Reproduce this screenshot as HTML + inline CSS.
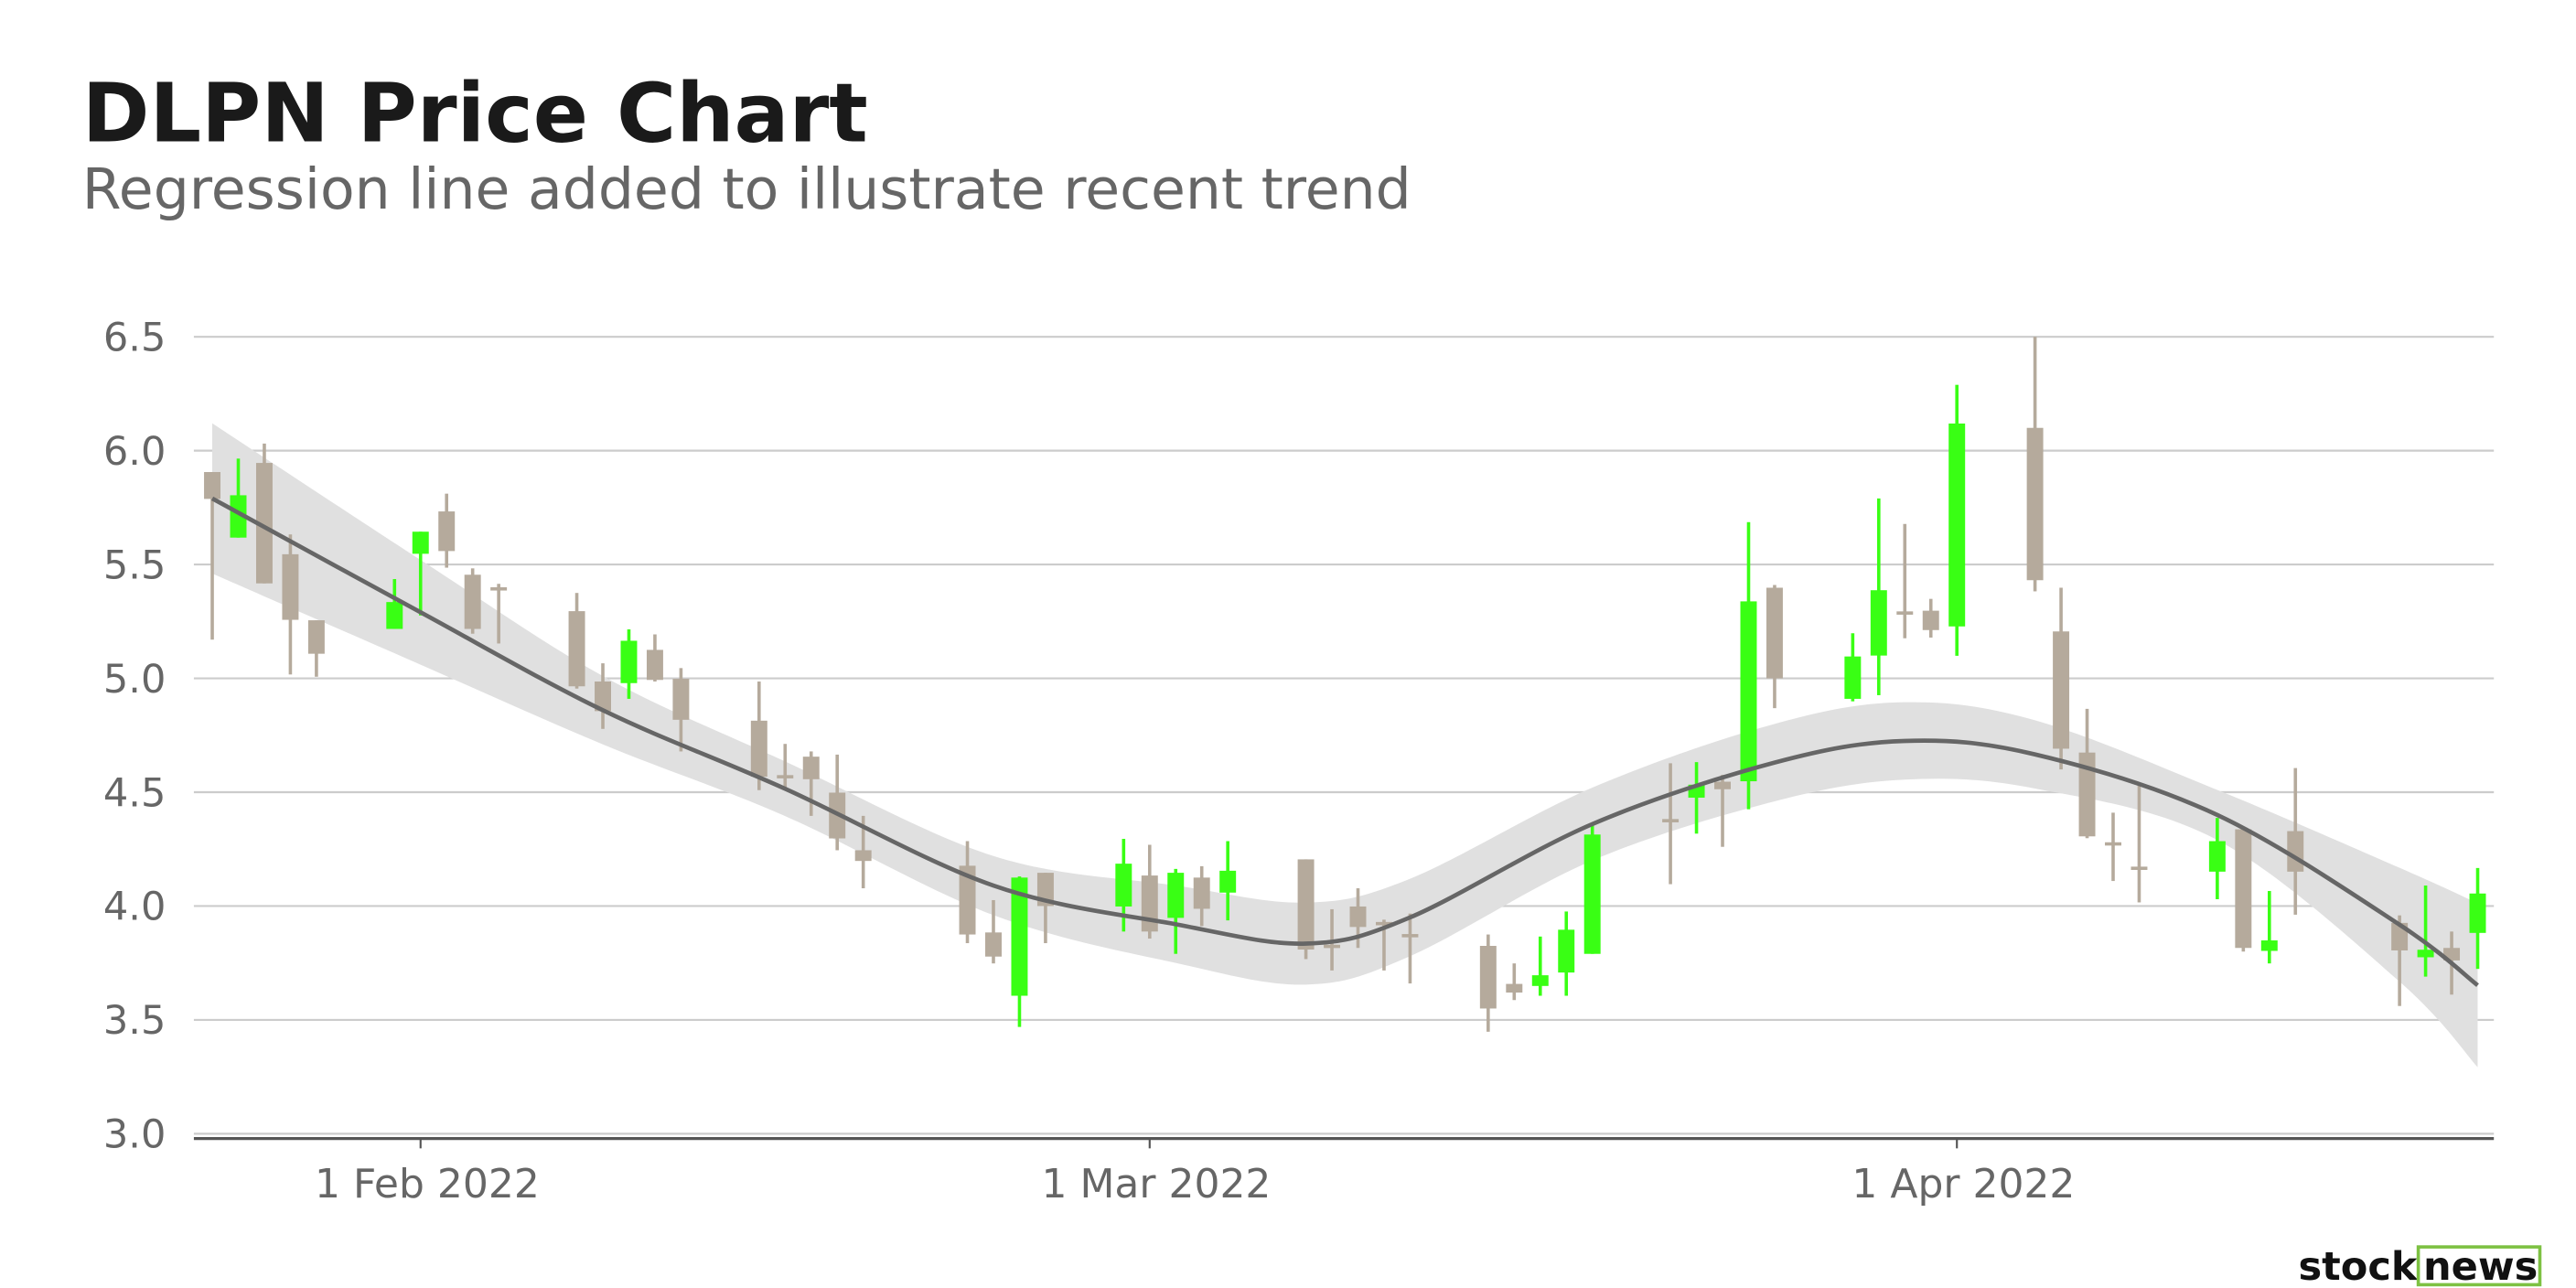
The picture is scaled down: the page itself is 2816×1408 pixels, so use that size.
<!DOCTYPE html>
<html><head><meta charset="utf-8"><style>
html,body{margin:0;padding:0;background:#fff;width:2816px;height:1408px;overflow:hidden}
svg{display:block}
text{font-family:"DejaVu Sans","Liberation Sans",sans-serif}
</style></head><body>
<svg id="chart" width="2816" height="1408" viewBox="0 0 1568 784" xmlns="http://www.w3.org/2000/svg">
<text x="50" y="86" font-size="49.5" font-weight="bold" fill="#1a1a1a">DLPN Price Chart</text>
<text x="50" y="127" font-size="34.3" fill="#666">Regression line added to illustrate recent trend</text>
<g id="grid"></g>
<g id="band"></g>
<g id="candles"></g>
<g id="axes"></g>
<g>
<text x="1399" y="779" font-size="24" font-weight="bold" fill="#111">stock</text>
<rect x="1472" y="759" width="74" height="23" fill="none" stroke="#7dc142" stroke-width="2"/>
<text x="1475" y="779" font-size="24" font-weight="bold" fill="#111">news</text>
</g>
</svg>
<script>
// day index relative to 1 Feb 2022
const days = [-8,-7,-6,-5,-4,-1,0,1,2,3,6,7,8,9,10,13,14,15,16,17,21,22,23,24,27,28,29,30,31,34,35,36,37,38,41,42,43,44,45,48,49,50,51,52,55,56,57,58,59,62,63,64,65,66,69,70,71,72,76,77,78,79];
const opens = [5.906,5.618,5.946,5.545,5.255,5.217,5.547,5.733,5.455,5.40,5.295,4.986,4.979,5.125,4.998,4.814,4.575,4.656,4.498,4.245,4.177,3.884,3.606,4.146,3.998,4.134,3.948,4.125,4.059,4.205,3.83,3.998,3.93,3.877,3.825,3.658,3.649,3.708,3.79,4.382,4.476,4.546,4.548,5.398,4.91,5.1,5.294,5.297,5.228,6.1,5.206,4.674,4.28,4.173,4.151,4.337,3.803,4.329,3.926,3.775,3.816,3.882];
const highs = [5.906,5.965,6.031,5.632,5.255,5.436,5.644,5.811,5.483,5.415,5.375,5.066,5.215,5.193,5.045,4.986,4.712,4.679,4.665,4.396,4.285,4.026,4.13,4.146,4.295,4.269,4.163,4.175,4.285,4.205,3.986,4.078,3.94,3.967,3.875,3.748,3.866,3.976,4.356,4.627,4.632,4.576,5.686,5.41,5.198,5.79,5.678,5.349,6.289,6.5,5.398,4.866,4.41,4.537,4.387,4.337,4.066,4.606,3.959,4.09,3.888,4.167];
const lows = [5.17,5.618,5.417,5.017,5.007,5.217,5.276,5.486,5.196,5.153,4.955,4.778,4.91,4.986,4.679,4.509,4.514,4.396,4.245,4.078,3.837,3.748,3.469,3.837,3.888,3.857,3.79,3.912,3.937,3.767,3.717,3.816,3.717,3.66,3.448,3.587,3.606,3.606,3.79,4.096,4.318,4.26,4.425,4.869,4.899,4.926,5.176,5.179,5.099,5.382,4.6,4.298,4.11,4.016,4.03,3.8,3.748,3.962,3.561,3.69,3.611,3.724];
const closes = [5.788,5.804,5.417,5.257,5.108,5.335,5.644,5.559,5.217,5.39,4.965,4.856,5.165,4.993,4.818,4.568,4.575,4.557,4.297,4.198,3.875,3.778,4.125,4.0,4.186,3.888,4.146,3.988,4.155,3.809,3.82,3.908,3.92,3.877,3.55,3.62,3.696,3.896,4.314,4.382,4.533,4.513,5.338,5.0,5.096,5.387,5.294,5.212,6.119,5.431,4.691,4.306,4.28,4.173,4.285,3.816,3.849,4.151,3.805,3.808,3.761,4.055];
// regression trend line and band half-width
const regDays = [-8,0,7,14,22,29,34,38,45,52,57,62,69,76,79];
const regValues = [5.79,5.29,4.86,4.515,4.09,3.92,3.835,3.95,4.36,4.63,4.725,4.666,4.40,3.918,3.652];
const bandHalf = [0.33,0.23,0.15,0.12,0.13,0.17,0.18,0.17,0.16,0.17,0.17,0.15,0.11,0.25,0.36];
const yTicks = [3.0,3.5,4.0,4.5,5.0,5.5,6.0,6.5];
const xTickDays = [0,28,59];
const xTickLabels = ["1 Feb 2022","1 Mar 2022","1 Apr 2022"];

const NS = "http://www.w3.org/2000/svg";
const X0 = 118, X1 = 1518;
const xs = d => 256 + d * 15.85;
const ys = v => 205 + (6.5 - v) * 138.6;
function mk(tag, attrs, parent){const e=document.createElementNS(NS,tag);for(const k in attrs)e.setAttribute(k,attrs[k]);parent.appendChild(e);return e;}

const grid = document.getElementById('grid');
yTicks.forEach(t=>{
  const l = mk('line',{x1:X0,x2:X1,y1:ys(t),y2:ys(t),stroke:'#cccccc','stroke-width':1.2},grid);
  
  
  const tx = mk('text',{x:101,y:ys(t)+8.5,'font-size':24,fill:'#666','text-anchor':'end'},grid);
  tx.textContent = t.toFixed(1);
  
  
});

const band = document.getElementById('band');
function smooth(pts){
  let d = `M${pts[0][0]},${pts[0][1]}`;
  for(let i=0;i<pts.length-1;i++){
    const p0=pts[Math.max(i-1,0)],p1=pts[i],p2=pts[i+1],p3=pts[Math.min(i+2,pts.length-1)];
    const c1=[p1[0]+(p2[0]-p0[0])/6,p1[1]+(p2[1]-p0[1])/6];
    const c2=[p2[0]-(p3[0]-p1[0])/6,p2[1]-(p3[1]-p1[1])/6];
    d+=` C${c1[0]},${c1[1]} ${c2[0]},${c2[1]} ${p2[0]},${p2[1]}`;
  }
  return d;
}
const up = regDays.map((d,i)=>[xs(d),ys(regValues[i]+bandHalf[i])]);
const lo = regDays.map((d,i)=>[xs(d),ys(regValues[i]-bandHalf[i])]).reverse();
const bp = mk('path',{d:smooth(up)+' L'+smooth(lo).slice(1)+' Z',fill:'#e0e0e0'},band);



const cg = document.getElementById('candles');
days.forEach((d,i)=>{
  const o=opens[i],c=closes[i],h=highs[i],l=lows[i];
  const col = c>o ? '#39ff14' : '#b5aa9c';
  const x = xs(d);
  const g = mk('g',{},cg);
  
  
  mk('rect',{x:x-1,y:ys(h),width:2,height:Math.max(ys(l)-ys(h),0.5),fill:col},g);
  const top=ys(Math.max(o,c)), bh=Math.max(Math.abs(ys(o)-ys(c)),2);
  mk('rect',{x:x-5,y:top,width:10,height:bh,fill:col},g);
});

const rl = mk('path',{d:smooth(regDays.map((d,i)=>[xs(d),ys(regValues[i])])),fill:'none',stroke:'#666','stroke-width':2.6},band.parentNode);



const ax = document.getElementById('axes');
const al = mk('line',{x1:X0,x2:X1,y1:693,y2:693,stroke:'#555','stroke-width':1.8},ax);


xTickDays.forEach((d,i)=>{
  mk('line',{x1:xs(d),x2:xs(d),y1:693,y2:699,stroke:'#555','stroke-width':1.2},ax);
  const t = mk('text',{x:xs(d)+4,y:729,'font-size':24.5,fill:'#666','text-anchor':'middle'},ax);
  t.textContent = xTickLabels[i];
  
  
});
</script>
</body></html>
